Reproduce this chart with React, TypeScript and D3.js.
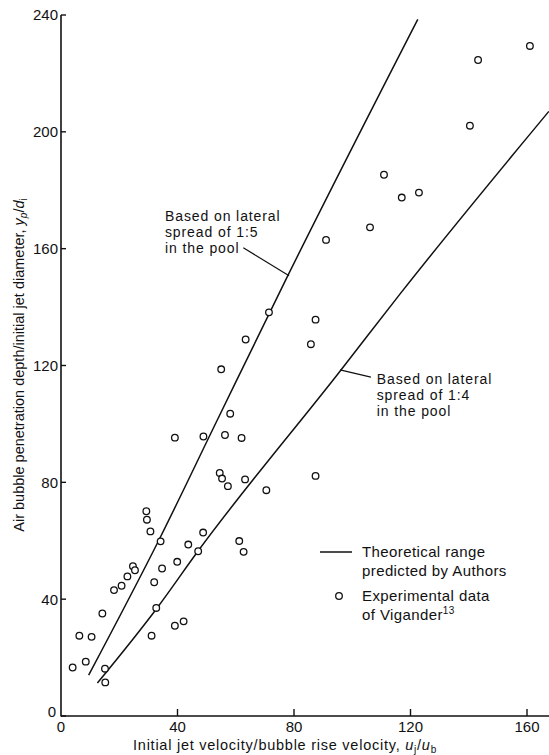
import React from "react";
import * as d3 from "d3";

// Experimental data of Vigander (u_j/u_b, y_p/d_j)
const dataX = [
  4.0, 6.3, 8.5, 10.5, 14.2, 15.1, 15.2, 18.2, 20.8, 22.8, 24.7, 25.4, 29.3, 29.5, 30.7, 31.1,
  32.0, 32.7, 34.2, 34.7, 39.1, 39.1, 39.9, 42.1, 43.7, 47.1, 48.8, 48.9, 56.3, 54.5, 55.3, 57.3,
  62.0, 61.2, 62.7, 71.4, 87.4, 63.4, 85.8, 55.0, 58.1, 63.2, 70.5, 87.4, 91.0, 106.1, 117.0,
  122.9, 110.9, 140.4, 143.2, 161.0,
];
const dataY = [
  16.6, 27.5, 18.6, 27.1, 35.1, 16.2, 11.5, 43.1, 44.6, 47.8, 51.3, 49.9, 70.1, 67.2, 63.2, 27.5,
  45.8, 37.0, 59.8, 50.5, 95.3, 30.9, 52.8, 32.4, 58.7, 56.4, 62.8, 95.7, 96.2, 83.2, 81.3, 78.7,
  95.2, 59.9, 56.2, 138.2, 135.7, 128.9, 127.3, 118.7, 103.5, 81.0, 77.3, 82.2, 163.0, 167.3, 177.5,
  179.2, 185.3, 202.1, 224.6, 229.4,
];

// Theoretical lines
const line15X = [9.5, 33.5, 53.5, 78, 122.5];
const line15Y = [14, 60, 101, 151, 238.5];
const line14X = [12.5, 33, 47, 96, 116.5, 167.5];
const line14Y = [11.3, 37, 56.4, 118.3, 144.6, 207];

const xTicks = [0, 40, 80, 120, 160];
const yTicks = [0, 40, 80, 120, 160, 200, 240];

const ann15Lines = ["Based on lateral", "spread of 1:5", "in the pool"];
const ann14Lines = ["Based on lateral", "spread of 1:4", "in the pool"];

const FONT = "'Liberation Sans', Arial, Helvetica, sans-serif";

export default function App() {
  const W = 549;
  const H = 755;
  const x = d3.scaleLinear().domain([0, 160]).range([61, 527]);
  const y = d3.scaleLinear().domain([0, 240]).range([716, 15]);

  const line = d3
    .line<[number, number]>()
    .x((d) => x(d[0]))
    .y((d) => y(d[1]))
    .curve(d3.curveMonotoneX);

  const l15 = line15X.map((v, i) => [v, line15Y[i]] as [number, number]);
  const l14 = line14X.map((v, i) => [v, line14Y[i]] as [number, number]);

  const x0 = x(0);
  const y0 = y(0);

  // annotations (data coordinates)
  const a15Text = { x: 35.7, y: 169.6 };
  const a15Lead = [
    [62.6, 160.3],
    [78.3, 150.7],
  ];
  const a14Text = { x: 108.4, y: 113.5 };
  const a14Lead = [
    [95.8, 118.5],
    [106.4, 116.0],
  ];

  return (
    <svg
      width={W}
      height={H}
      style={{ position: "absolute", left: 0, top: 0, background: "#fff" }}
      fontFamily={FONT}
    >
      <rect width={W} height={H} fill="#fff" />
      {/* axes */}
      <line x1={x0} x2={x0} y1={y0 + 0.5} y2={y(240)} stroke="#111" strokeWidth={1.6} />
      <line x1={x0} x2={W} y1={y0} y2={y0} stroke="#111" strokeWidth={1.6} />
      {yTicks.map((t) => (
        <g key={"y" + t}>
          <line x1={x0} x2={x0 + 5} y1={y(t)} y2={y(t)} stroke="#111" strokeWidth={1.4} />
          <text
            x={t === 0 ? x0 - 5 : x0 - 3}
            y={t === 0 ? y(t) - 4 : y(t)}
            dy="0.36em"
            textAnchor="end"
            fontSize={15}
            fill="#111"
          >
            {t}
          </text>
        </g>
      ))}
      {xTicks.map((t) => (
        <g key={"x" + t}>
          {t > 0 && (
            <line x1={x(t)} x2={x(t)} y1={y0} y2={y0 - 7} stroke="#111" strokeWidth={1.4} />
          )}
          <text x={x(t)} y={y0 + 16} textAnchor="middle" fontSize={15} fill="#111">
            {t}
          </text>
        </g>
      ))}
      {/* axis titles */}
      <text
        x={285}
        y={749.5}
        textAnchor="middle"
        fontSize={14.5}
        letterSpacing={0.75}
        fill="#111"
      >
        Initial jet velocity/bubble rise velocity,{" "}
        <tspan fontStyle="italic">u</tspan>
        <tspan fontSize={10} dy={3}>j</tspan>
        <tspan dy={-3}>/</tspan>
        <tspan fontStyle="italic">u</tspan>
        <tspan fontSize={10} dy={3}>b</tspan>
      </text>
      <text
        transform={`translate(24,365) rotate(-90)`}
        textAnchor="middle"
        fontSize={14.5}
        fill="#111"
      >
        Air bubble penetration depth/initial jet diameter,{" "}
        <tspan fontStyle="italic">y</tspan>
        <tspan fontSize={10} dy={3} fontStyle="italic">p</tspan>
        <tspan dy={-3}>/</tspan>
        <tspan fontStyle="italic">d</tspan>
        <tspan fontSize={10} dy={3}>i</tspan>
      </text>

      {/* theory lines */}
      <path d={line(l15) || ""} fill="none" stroke="#111" strokeWidth={1.5} />
      <path d={line(l14) || ""} fill="none" stroke="#111" strokeWidth={1.5} />

      {/* data */}
      {dataX.map((v, i) => (
        <circle
          key={"p" + i}
          cx={x(v)}
          cy={y(dataY[i])}
          r={3.3}
          fill="#fff"
          stroke="#111"
          strokeWidth={1.3}
        />
      ))}

      {/* annotations */}
      <text fontSize={14} letterSpacing={0.9} fill="#111">
        {ann15Lines.map((s, i) => (
          <tspan key={i} x={x(a15Text.x)} y={y(a15Text.y) + i * 16}>
            {s}
          </tspan>
        ))}
      </text>
      <line
        x1={x(a15Lead[0][0])}
        y1={y(a15Lead[0][1])}
        x2={x(a15Lead[1][0])}
        y2={y(a15Lead[1][1])}
        stroke="#111"
        strokeWidth={1.2}
      />
      <text fontSize={14} letterSpacing={0.9} fill="#111">
        {ann14Lines.map((s, i) => (
          <tspan key={i} x={x(a14Text.x)} y={y(a14Text.y) + i * 16}>
            {s}
          </tspan>
        ))}
      </text>
      <line
        x1={x(a14Lead[0][0])}
        y1={y(a14Lead[0][1])}
        x2={x(a14Lead[1][0])}
        y2={y(a14Lead[1][1])}
        stroke="#111"
        strokeWidth={1.2}
      />

      {/* legend */}
      <line x1={320} x2={352} y1={552} y2={552} stroke="#111" strokeWidth={1.5} />
      <text fontSize={15} letterSpacing={0.4} fill="#111">
        <tspan x={362} y={557}>Theoretical range</tspan>
        <tspan x={362} y={576}>predicted by Authors</tspan>
      </text>
      <circle cx={339} cy={596} r={3.3} fill="#fff" stroke="#111" strokeWidth={1.3} />
      <text fontSize={15} letterSpacing={0.4} fill="#111">
        <tspan x={362} y={601}>Experimental data</tspan>
        <tspan x={362} y={620}>
          of Vigander
          <tspan fontSize={10} dy={-6}>13</tspan>
        </tspan>
      </text>
    </svg>
  );
}
